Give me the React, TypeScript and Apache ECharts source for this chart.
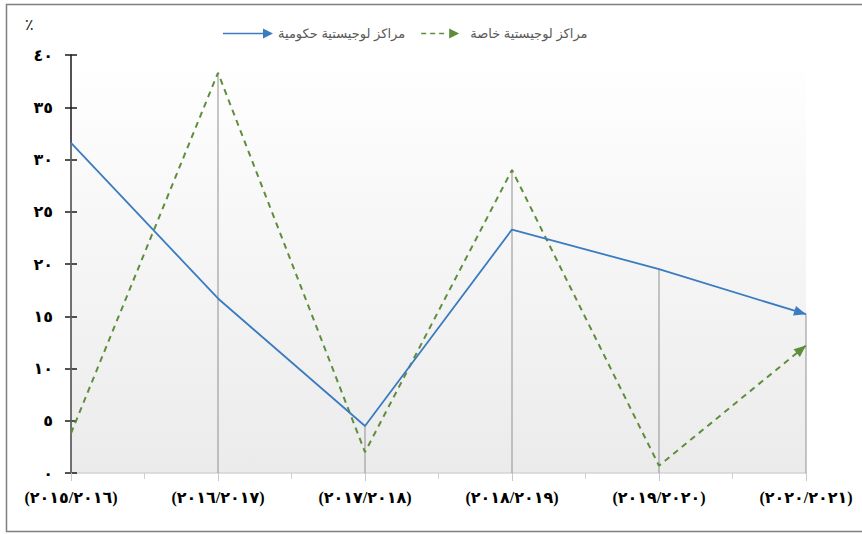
import React, { useEffect, useRef } from "react";
import * as echarts from "echarts";

// Fiscal years (category axis)
const categories = [
  "(٢٠١٥/٢٠١٦)",
  "(٢٠١٦/٢٠١٧)",
  "(٢٠١٧/٢٠١٨)",
  "(٢٠١٨/٢٠١٩)",
  "(٢٠١٩/٢٠٢٠)",
  "(٢٠٢٠/٢٠٢١)",
];

// Share (%) per year
const governmentCenters = [31.6, 16.7, 4.5, 23.3, 19.5, 15.2];
const privateCenters = [3.8, 38.3, 2.0, 29.0, 0.7, 12.2];

const seriesNames = ["مراكز لوجيستية حكومية", "مراكز لوجيستية خاصة"];

// Y axis tick labels in Arabic-Indic digits, indexed by value / 5
const yTickLabels = ["٠", "٥", "١٠", "١٥", "٢٠", "٢٥", "٣٠", "٣٥", "٤٠"];

const BLUE = "#3b7bc0";
const GREEN = "#5e8e3c";
const SERIF = "'Times New Roman', 'Liberation Serif', 'DejaVu Sans', serif";
const SANS = "Arial, 'Liberation Sans', 'DejaVu Sans', sans-serif";

// Legend icons: solid line + arrow, dashed line + arrow
const ICON_SOLID = "path://M0,4.2L40,4.2L40,5.8L0,5.8Z M40,0L50,5L40,10Z";
const ICON_DASHED =
  "path://M10,4.2h5v1.6h-5z M19,4.2h5v1.6h-5z M28,4.2h5v1.6h-5z M38,0L48,5L38,10Z";

// Drop lines run from the higher of the two values down to the axis
const dropLineValues = governmentCenters.map((v, i) => Math.max(v, privateCenters[i]));

const last = categories.length - 1;

// Arrow head on the final segment (the segment itself is drawn by the series)
function arrowHead(values: number[], color: string) {
  return {
    silent: true,
    animation: false,
    label: { show: false },
    symbol: ["none", "triangle"],
    symbolSize: [10, 12],
    symbolOffset: [0, [0, 6]],
    lineStyle: { color, width: 0, type: "solid" },
    itemStyle: { color },
    data: [[{ coord: [last - 1, values[last - 1]] }, { coord: [last, values[last]] }]],
  };
}

export default function App() {
  const ref = useRef<HTMLDivElement>(null);

  useEffect(() => {
    if (!ref.current) return;
    const chart = echarts.init(ref.current, null, { renderer: "svg" });

    chart.setOption({
      animation: false,
      backgroundColor: "#ffffff",
      title: {
        text: "٪",
        left: 20,
        top: 11,
        textStyle: { fontSize: 16, fontWeight: "normal", color: "#222", fontFamily: SERIF },
      },
      graphic: [
        {
          type: "rect",
          shape: { x: 6.5, y: 4.5, width: 900, height: 527 },
          style: { fill: "none", stroke: "#7f7f7f", lineWidth: 1.5 },
          silent: true,
        },
      ],
      legend: {
        left: 218,
        top: 22,
        itemWidth: 50,
        itemHeight: 10,
        itemGap: 16,
        textStyle: { fontSize: 13, color: "#595959", fontFamily: SANS },
        data: [
          { name: seriesNames[0], icon: ICON_SOLID },
          { name: seriesNames[1], icon: ICON_DASHED },
        ],
      },
      grid: {
        left: 71,
        right: 56,
        top: 55,
        bottom: 61,
        show: true,
        borderWidth: 0,
        backgroundColor: {
          type: "linear",
          x: 0,
          y: 0,
          x2: 0,
          y2: 1,
          colorStops: [
            { offset: 0, color: "#ffffff" },
            { offset: 1, color: "#ebebeb" },
          ],
        },
      },
      xAxis: [
        {
          type: "category",
          data: categories,
          boundaryGap: false,
          position: "bottom",
          axisLine: { show: true, lineStyle: { color: "#d4d4d4", width: 1.5 } },
          axisTick: { show: true, length: 8, lineStyle: { color: "#c8c8c8" } },
          axisLabel: {
            margin: 16,
            fontSize: 16,
            fontWeight: "bold",
            color: "#000",
            fontFamily: SERIF,
          },
          splitLine: { show: false },
        },
        {
          // midpoint ticks between years
          type: "category",
          data: categories.slice(1),
          boundaryGap: true,
          position: "bottom",
          offset: 0,
          axisLine: { show: false },
          axisTick: { show: true, alignWithLabel: true, length: 6, lineStyle: { color: "#d0d0d0" } },
          axisLabel: { show: false },
          splitLine: { show: false },
        },
      ],
      yAxis: [
        {
          type: "value",
          min: 0,
          max: 40,
          interval: 5,
          axisLine: { show: true, lineStyle: { color: "#1a1a1a", width: 1.5 } },
          axisTick: { show: true, length: 6, lineStyle: { color: "#1a1a1a", width: 1.5 } },
          axisLabel: {
            margin: 18,
            fontSize: 16,
            fontWeight: "bold",
            color: "#000",
            fontFamily: SERIF,
            formatter: (v: number) => yTickLabels[Math.round(v / 5)] ?? "",
          },
          splitLine: { show: false },
        },
        {
          // inner half of the crossing tick marks
          type: "value",
          min: 0,
          max: 40,
          interval: 5,
          position: "left",
          offset: 0,
          axisLine: { show: false },
          axisTick: { show: true, inside: true, length: 6, lineStyle: { color: "#1a1a1a", width: 1.5 } },
          axisLabel: { show: false },
          splitLine: { show: false },
        },
      ],
      series: [
        {
          name: "drop",
          type: "bar",
          data: dropLineValues,
          barWidth: 1,
          itemStyle: { color: "#8f8f8f" },
          silent: true,
          z: 1,
        },
        {
          name: seriesNames[0],
          type: "line",
          data: governmentCenters,
          symbol: "none",
          lineStyle: { color: BLUE, width: 1.8 },
          itemStyle: { color: BLUE },
          z: 3,
          markLine: arrowHead(governmentCenters, BLUE),
        },
        {
          name: seriesNames[1],
          type: "line",
          data: privateCenters,
          symbol: "none",
          lineStyle: { color: GREEN, width: 2, type: [6, 5] },
          itemStyle: { color: GREEN },
          z: 2,
          markLine: arrowHead(privateCenters, GREEN),
        },
      ],
    });

    return () => chart.dispose();
  }, []);

  return (
    <div
      ref={ref}
      style={{ position: "fixed", left: 0, top: 0, width: 862, height: 534 }}
    />
  );
}
